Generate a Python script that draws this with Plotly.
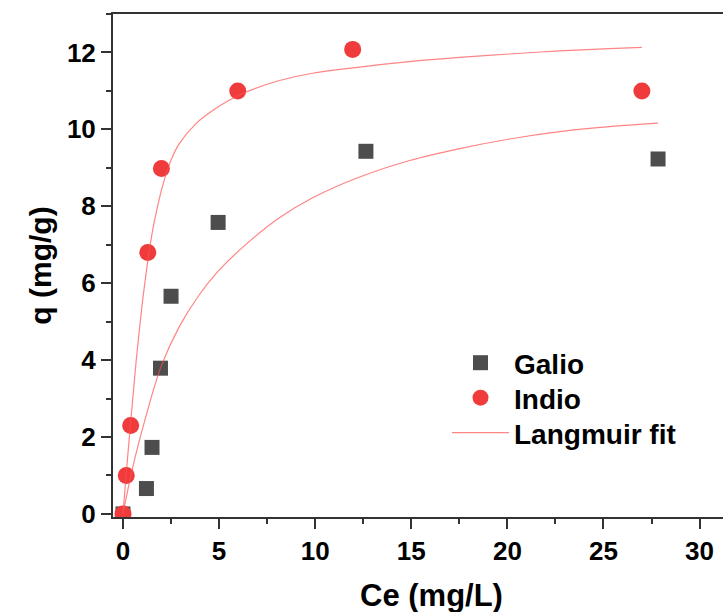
import plotly.graph_objects as go

# Experimental data
galio_ce = [0, 1.22, 1.51, 1.95, 2.5, 4.95, 12.64, 27.84]
galio_q = [0, 0.66, 1.73, 3.79, 5.66, 7.58, 9.43, 9.23]
indio_ce = [0, 0.17, 0.4, 1.29, 2.0, 5.97, 11.95, 27.0]
indio_q = [0, 1.0, 2.3, 6.8, 8.98, 11.0, 12.08, 11.0]

# Langmuir fit curves
fit_galio_ce = [0, 0.5, 1.2, 1.98, 2.93, 3.97, 4.93, 6.4, 8.14, 9.87, 12.31, 14.92, 17.52, 20.12, 22.72, 25.32, 27.84]
fit_galio_q = [0, 1.2, 2.55, 3.83, 4.87, 5.70, 6.30, 7.01, 7.70, 8.22, 8.76, 9.19, 9.50, 9.75, 9.94, 10.07, 10.16]
fit_indio_ce = [0, 0.16, 0.42, 0.68, 0.94, 1.16, 1.4, 1.63, 2.07, 2.5, 2.93, 3.8, 4.67, 5.5, 6.4, 8.14, 9.87, 12.31, 14.9, 17.52, 20.1, 22.7, 25.3, 27.0]
fit_indio_q = [0, 1.0, 2.5, 3.95, 5.2, 6.1, 6.95, 7.6, 8.55, 9.2, 9.63, 10.15, 10.49, 10.75, 10.97, 11.27, 11.46, 11.62, 11.76, 11.87, 11.96, 12.04, 12.10, 12.13]

x_ticks = [0, 5, 10, 15, 20, 25, 30]
y_ticks = [0, 2, 4, 6, 8, 10, 12]

FONT = "Liberation Sans, Arial, sans-serif"
LINE_COLOR = "rgba(255,80,80,0.7)"
LEG_FONT = dict(family=FONT, size=28, color="black", weight="bold")

fig = go.Figure()
fig.add_trace(go.Scatter(x=galio_ce, y=galio_q, mode="markers", name="Galio",
                         marker=dict(symbol="square", size=15, color="#4d4d4d"),
                         legend="legend"))
fig.add_trace(go.Scatter(x=indio_ce, y=indio_q, mode="markers", name="Indio",
                         marker=dict(symbol="circle", size=17, color="#ef3b3b"),
                         legend="legend2"))
fig.add_trace(go.Scatter(x=fit_galio_ce, y=fit_galio_q, mode="lines", name="Langmuir fit",
                         line=dict(color=LINE_COLOR, width=1.2, shape="spline"),
                         legend="legend3"))
fig.add_trace(go.Scatter(x=fit_indio_ce, y=fit_indio_q, mode="lines", name="Langmuir fit",
                         line=dict(color=LINE_COLOR, width=1.2, shape="spline"),
                         showlegend=False, legend="legend3"))

axis_common = dict(
    showgrid=False, zeroline=False, showline=True, linecolor="#333333", linewidth=2,
    ticks="outside", ticklen=10, tickwidth=2, tickcolor="#333333",
    tickfont=dict(family=FONT, size=26, color="black", weight="bold"),
)

def leg(y_center_px):
    return dict(x=(447 - 113) / 610, y=(517 - y_center_px) / 503, xanchor="left", yanchor="middle",
                font=LEG_FONT, bgcolor="rgba(0,0,0,0)", itemwidth=57)

fig.update_layout(
    width=723, height=612,
    margin=dict(l=113, r=0, t=14, b=95),
    plot_bgcolor="white", paper_bgcolor="white",
    font=dict(family=FONT, color="black"),
    xaxis=dict(range=[-0.52, 31.22], tickvals=x_ticks, mirror=True,
               minor=dict(dtick=2.5, ticks="outside", ticklen=5, tickwidth=2, tickcolor="#333333"),
               **axis_common),
    yaxis=dict(range=[-0.08, 13.0], tickvals=y_ticks,
               minor=dict(dtick=1, ticks="outside", ticklen=5, tickwidth=2, tickcolor="#333333"),
               title=dict(text="q (mg/g)", standoff=6,
                          font=dict(family=FONT, size=30, color="black", weight="bold")),
               **axis_common),
    legend=leg(363),
    legend2=leg(398),
    legend3=leg(433),
    showlegend=True,
    annotations=[dict(text="Ce (mg/L)", xref="paper", yref="paper",
                      x=(431 - 113) / 610, y=-(615 - 517) / 503, xanchor="center", yanchor="bottom",
                      showarrow=False,
                      font=dict(family=FONT, size=31, color="black", weight="bold"))],
)

fig.write_html("out.html", config={"displayModeBar": False},
               post_script="document.body.style.margin='0';document.body.style.overflow='hidden';")
